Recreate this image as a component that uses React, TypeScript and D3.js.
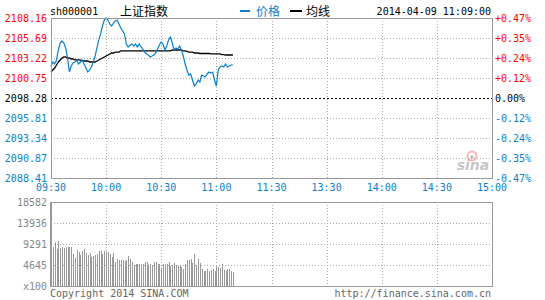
import React from "react";
import * as d3 from "d3";

const priceTicks = ["2108.16", "2105.69", "2103.22", "2100.75", "2098.28", "2095.81", "2093.34", "2090.87", "2088.41"];
const pctTicks = ["+0.47%", "+0.35%", "+0.24%", "+0.12%", "0.00%", "-0.12%", "-0.24%", "-0.35%", "-0.47%"];
const timeTicks = ["09:30", "10:00", "10:30", "11:00", "11:30", "13:30", "14:00", "14:30", "15:00"];
const volTicks = ["18582", "13936", "9291", "4645", "x100"];

const prices = [
  2102.24, 2102.73, 2102.48, 2102.98, 2104.21, 2105.07, 2105.32, 2105.07, 2104.46, 2103.22,
  2101.49, 2102.24, 2102.61, 2102.73, 2102.98, 2102.48, 2102.73, 2102.98, 2102.48, 2101.99,
  2101.49, 2101.74, 2102.11, 2102.73, 2103.47, 2104.46, 2105.44, 2106.19, 2107.17, 2107.91,
  2108.16, 2107.91, 2107.42, 2107.17, 2107.54, 2107.79, 2107.91, 2107.42, 2106.93, 2106.56,
  2106.19, 2104.95, 2104.58, 2104.83, 2104.95, 2104.70, 2104.95, 2104.58, 2104.95, 2104.58,
  2104.33, 2103.96, 2103.72, 2103.59, 2103.35, 2103.47, 2103.59, 2103.84, 2104.33, 2104.83,
  2105.20, 2104.95, 2104.21, 2104.70, 2105.44, 2105.82, 2105.07, 2104.21, 2104.46, 2104.33,
  2104.70, 2104.21, 2103.47, 2102.48, 2101.74, 2101.12, 2101.25, 2100.51, 2099.77, 2100.01,
  2100.51, 2100.26, 2101.12, 2101.00, 2100.88, 2101.25, 2101.49, 2101.37, 2101.49, 2100.51,
  2099.77, 2101.74, 2102.11, 2102.24, 2102.11, 2102.48, 2102.11, 2102.24, 2102.36, 2102.36,
];

const averages = [
  2101.49, 2101.74, 2101.99, 2102.36, 2102.73, 2102.98, 2103.22, 2103.35, 2103.35, 2103.22,
  2103.22, 2103.10, 2103.10, 2102.98, 2102.98, 2102.98, 2102.98, 2102.85, 2102.85, 2102.85,
  2102.85, 2102.73, 2102.73, 2102.73, 2102.73, 2102.85, 2102.98, 2103.10, 2103.22, 2103.35,
  2103.47, 2103.59, 2103.72, 2103.84, 2103.84, 2103.96, 2103.96, 2103.96, 2104.09, 2104.09,
  2104.09, 2104.09, 2104.09, 2104.09, 2104.09, 2104.09, 2104.09, 2104.09, 2104.09, 2104.09,
  2104.09, 2104.09, 2104.09, 2104.09, 2104.09, 2104.09, 2104.09, 2104.09, 2104.09, 2104.09,
  2104.09, 2104.09, 2104.09, 2104.09, 2104.09, 2104.09, 2104.21, 2104.21, 2104.21, 2104.21,
  2104.21, 2104.21, 2104.09, 2104.09, 2104.03, 2103.96, 2103.96, 2103.96, 2103.84, 2103.84,
  2103.84, 2103.78, 2103.78, 2103.78, 2103.78, 2103.78, 2103.78, 2103.72, 2103.72, 2103.72,
  2103.72, 2103.72, 2103.72, 2103.65, 2103.65, 2103.59, 2103.59, 2103.59, 2103.59, 2103.59,
];

// volume (x100), minutes 1..99
const volumes = [
  8734, 9680, 8140, 9966, 8360, 8580, 8360, 8734, 8580, 8580,
  8580, 7040, 6160, 7920, 7414, 6886, 7634, 8140, 7260, 6886,
  7260, 6314, 6666, 6886, 7040, 7634, 7634, 7040, 7766, 7480,
  7480, 7040, 6314, 7260, 5280, 6006, 5654, 5654, 5654, 5434,
  5786, 6534, 6006, 5280, 4554, 4840, 4840, 4840, 4840, 4840,
  5214, 5214, 4554, 4840, 4686, 5280, 5280, 4840, 4840, 3960,
  4840, 4840, 4840, 5280, 4334, 4686, 5060, 4686, 4400, 4400,
  4180, 3806, 4840, 5720, 5720, 6006, 4994, 7040, 4686, 5940,
  4994, 3740, 3234, 3366, 3740, 3366, 3586, 3740, 3234, 4686,
  4114, 3960, 4840, 3586, 3234, 3740, 3740, 3234, 3080,
];

const BLUE = "#0a7fcc";
const MONO = "'DejaVu Sans Mono', monospace";
const CJK = "'Noto Sans CJK SC', sans-serif";

export default function App() {
  const L = 51, R = 492, T = 18, B = 178, VT = 202, VB = 286;
  const x = d3.scaleLinear().domain([0, 240]).range([L, R]);
  const y = d3.scaleLinear().domain([2088.41, 2108.16]).range([B, T]);
  const yTick = d3.scaleLinear().domain([0, priceTicks.length - 1]).range([T, B]);
  const vy = d3.scaleLinear().domain([0, 18582]).range([VB, VT]);
  const vTick = d3.scaleLinear().domain([0, volTicks.length - 1]).range([VT, VB]);
  const tx = d3.scaleLinear().domain([0, timeTicks.length - 1]).range([L, R]);

  const priceLine = d3.line<number>().x((_, i) => x(i)).y((d) => y(d));
  const avgLine = d3.line<number>().x((_, i) => x(i)).y((d) => y(d));

  const labelColor = (i: number) => (i < 4 ? "#ff0000" : i === 4 ? "#000" : BLUE);
  const px = (v: number) => Math.round(v) + 0.5;

  return (
    <svg width={545} height={300} style={{ position: "absolute", left: 0, top: 0, background: "#fff" }}>
      <rect x={0} y={0} width={545} height={300} fill="#fff" />
      {/* header */}
      <text x={50} y={15} fontFamily={MONO} fontSize={10} fill="#000">sh000001</text>
      <text x={120} y={16} fontFamily={CJK} fontSize={12} fill="#000">上证指数</text>
      <rect x={240} y={10} width={10} height={2} fill={BLUE} />
      <text x={256} y={16} fontFamily={CJK} fontSize={12} fill={BLUE}>价格</text>
      <rect x={290} y={10} width={12} height={2} fill="#000" />
      <text x={306} y={16} fontFamily={CJK} fontSize={12} fill="#000">均线</text>
      <text x={491} y={15} textAnchor="end" fontFamily={MONO} fontSize={10} fill="#000">2014-04-09 11:09:00</text>

      {/* main grid */}
      <g shapeRendering="crispEdges">
        {priceTicks.map((_, i) =>
          i === 0 || i === priceTicks.length - 1 ? null : (
            <line key={"h" + i} x1={L} x2={R} y1={px(yTick(i))} y2={px(yTick(i))}
              stroke={i === 4 ? "#000" : "#aaa"} strokeDasharray={i === 4 ? "2,2" : "1,2"} />
          )
        )}
        {timeTicks.map((_, i) =>
          i === 0 || i === timeTicks.length - 1 ? null : (
            <g key={"v" + i}>
              <line x1={px(tx(i))} x2={px(tx(i))} y1={T} y2={B} stroke="#aaa" strokeDasharray="1,2" />
              <line x1={px(tx(i))} x2={px(tx(i))} y1={VT} y2={VB} stroke="#aaa" strokeDasharray="1,2" />
            </g>
          )
        )}
      </g>

      {/* watermark */}
      <g opacity={0.55}>
        <circle cx={472} cy={156} r={4.5} fill="none" stroke="#f08080" strokeWidth={2} />
        <circle cx={472} cy={157} r={1.8} fill="#888" />
        <text x={473} y={170} textAnchor="middle" fontFamily="'DejaVu Sans', sans-serif" fontStyle="italic" fontWeight="bold" fontSize={14} fill="#999">sina</text>
      </g>

      {/* lines */}
      <path d={avgLine(averages) || ""} fill="none" stroke="#000" strokeWidth={1.3} />
      <path d={priceLine(prices) || ""} fill="none" stroke={BLUE} strokeWidth={1.2} />

      {/* main box */}
      <rect x={L + 0.5} y={T + 0.5} width={R - L} height={B - T} fill="none" stroke="#999" shapeRendering="crispEdges" />

      {/* price labels */}
      {priceTicks.map((t, i) => (
        <text key={"pl" + i} x={47} y={yTick(i) + 3.5} textAnchor="end" fontFamily={MONO} fontSize={10} fill={labelColor(i)}>{t}</text>
      ))}
      {pctTicks.map((t, i) => (
        <text key={"pr" + i} x={495} y={yTick(i) + 3.5} fontFamily={MONO} fontSize={10} fill={labelColor(i)}>{t}</text>
      ))}
      {timeTicks.map((t, i) => (
        <text key={"tl" + i} x={tx(i)} y={191} textAnchor="middle" fontFamily={MONO} fontSize={10} fill={BLUE}>{t}</text>
      ))}

      {/* volume */}
      <g shapeRendering="crispEdges">
        {volumes.map((v, i) => (
          <rect key={"b" + i} x={Math.round(x(i + 1)) - 0.5} y={vy(v)} width={1} height={VB - vy(v)} fill="#999" />
        ))}
        {volTicks.map((_, i) =>
          i === 0 || i === volTicks.length - 1 ? null : (
            <line key={"vh" + i} x1={L} x2={R} y1={px(vTick(i))} y2={px(vTick(i))} stroke="#aaa" strokeDasharray="1,2" />
          )
        )}
        <rect x={L + 0.5} y={VT + 0.5} width={R - L} height={VB - VT} fill="none" stroke="#999" />
        <line x1={L - 0.5} x2={L - 0.5} y1={VT} y2={VB + 1} stroke="#999" />
      </g>
      {volTicks.map((t, i) => (
        <text key={"vl" + i} x={47} y={vTick(i) + 3.5} textAnchor="end" fontFamily={MONO} fontSize={10} fill="#888">{t}</text>
      ))}

      <text x={50} y={297} fontFamily={MONO} fontSize={10} fill="#666">Copyright 2014 SINA.COM</text>
      <text x={491} y={297} textAnchor="end" fontFamily={MONO} fontSize={10} fill="#666">http://finance.sina.com.cn</text>
    </svg>
  );
}
